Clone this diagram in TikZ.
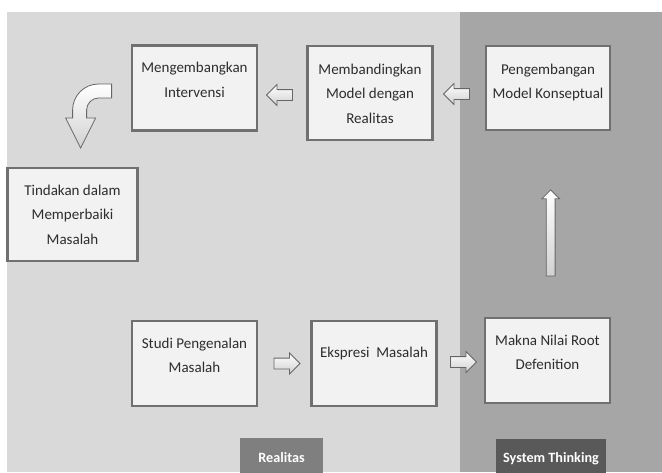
\documentclass[tikz,border=0pt]{standalone}
\usepackage{fontspec}
\setmainfont{Carlito}
\usepackage{tikz}
\usetikzlibrary{shapes.arrows, calc}
\definecolor{bglight}{RGB}{217, 217, 217}
\definecolor{bgdark}{RGB}{166, 166, 166}
\definecolor{boxline}{RGB}{112, 112, 112}
\definecolor{boxfill}{RGB}{242, 242, 242}
\definecolor{txtgray}{RGB}{45, 45, 45}
\definecolor{tagmid}{RGB}{127, 127, 127}
\definecolor{tagdark}{RGB}{89, 89, 89}
\newcommand{\toptext}[3]{\parbox[c][#1][t]{124pt}{\centering\rule{0pt}{#2}#3}}

\begin{document}
\begin{tikzpicture}[
    x=1pt, y=-1pt,
    box/.style={rectangle, draw=boxline, line width=2.8pt, fill=boxfill, inner sep=0pt, text=txtgray, font=\fontsize{15pt}{24.5pt}\selectfont},
    tag/.style={rectangle, inner sep=0pt, text=white, font=\fontsize{14.2pt}{16pt}\selectfont\bfseries},
    blockarrow/.style={single arrow, draw=black!60, line width=0.8pt, top color=white, bottom color=black!18, inner sep=5pt, minimum height=26pt, minimum width=20pt, single arrow head extend=5pt, single arrow head indent=0pt}
]
\useasboundingbox (0,0) rectangle (662,472);

% Latar
\fill[bglight] (7,12) rectangle (662,472);
\fill[bgdark] (460,12) rectangle (662,472);

% Kotak proses
\node [box, minimum width=125pt, minimum height=85pt] (meng) at (194.5,88) {\toptext{85pt}{27pt}{Mengembangkan\\Intervensi}};
\node [box, minimum width=125pt, minimum height=94pt] (band) at (370,93) {\toptext{94pt}{28pt}{Membandingkan\\Model dengan\\Realitas}};
\node [box, minimum width=124pt, minimum height=84pt] (peng) at (548,88) {\toptext{84pt}{28pt}{Pengembangan\\Model Konseptual}};
\node [box, minimum width=130pt, minimum height=93pt] (tind) at (72.5,214.5) {\toptext{93pt}{27pt}{Tindakan dalam\\Memperbaiki\\Masalah}};
\node [box, minimum width=125pt, minimum height=85pt] (studi) at (194.5,363.5) {\toptext{85pt}{27pt}{Studi Pengenalan\\Masalah}};
\node [box, minimum width=125pt, minimum height=85pt] (eksp) at (374,363.5) {\toptext{85pt}{36pt}{Ekspresi\ \ Masalah}};
\node [box, minimum width=125pt, minimum height=85pt] (makna) at (547.5,360.5) {\toptext{85pt}{27pt}{Makna Nilai Root\\Defenition}};

% Label wilayah
\node [tag, fill=tagmid, minimum width=83pt, minimum height=40pt] (realitas) at (281.5,458) {Realitas};
\node [tag, fill=tagdark, minimum width=110pt, minimum height=40pt] (sistem) at (551,459) {System Thinking};

% Panah blok
\path (studi.east) -- node[blockarrow] (a1) {} (eksp.west);
\path (eksp.east) -- node[blockarrow] (a2) {} (makna.west);
\path (makna.north) -- node[blockarrow, pos=0.44, xshift=3pt, shape border rotate=90, inner sep=4pt, minimum height=86pt, minimum width=17pt, single arrow head extend=4.5pt] (a3) {} (peng.south);
\path (peng.west) -- node[blockarrow, yshift=-3.5pt, shape border rotate=180] (a4) {} (band.east);
\path (band.west) -- node[blockarrow, yshift=-4.5pt, shape border rotate=180] (a5) {} (meng.east);

% Panah lengkung ke tindakan
\begin{scope}[shift={(meng.west)}]
\draw[draw=black!60, line width=0.8pt, top color=white, bottom color=black!18]
    (-19,-4) -- (-32,-4) .. controls (-46.4,-4) and (-58,7.6) .. (-58,22)
    -- (-58,30) -- (-65,30) -- (-50,60) -- (-35,30) -- (-44,30) -- (-44,22)
    .. controls (-44,15.4) and (-38.6,10) .. (-32,10) -- (-19,10) -- cycle;
\end{scope}

\end{tikzpicture}
\end{document}
